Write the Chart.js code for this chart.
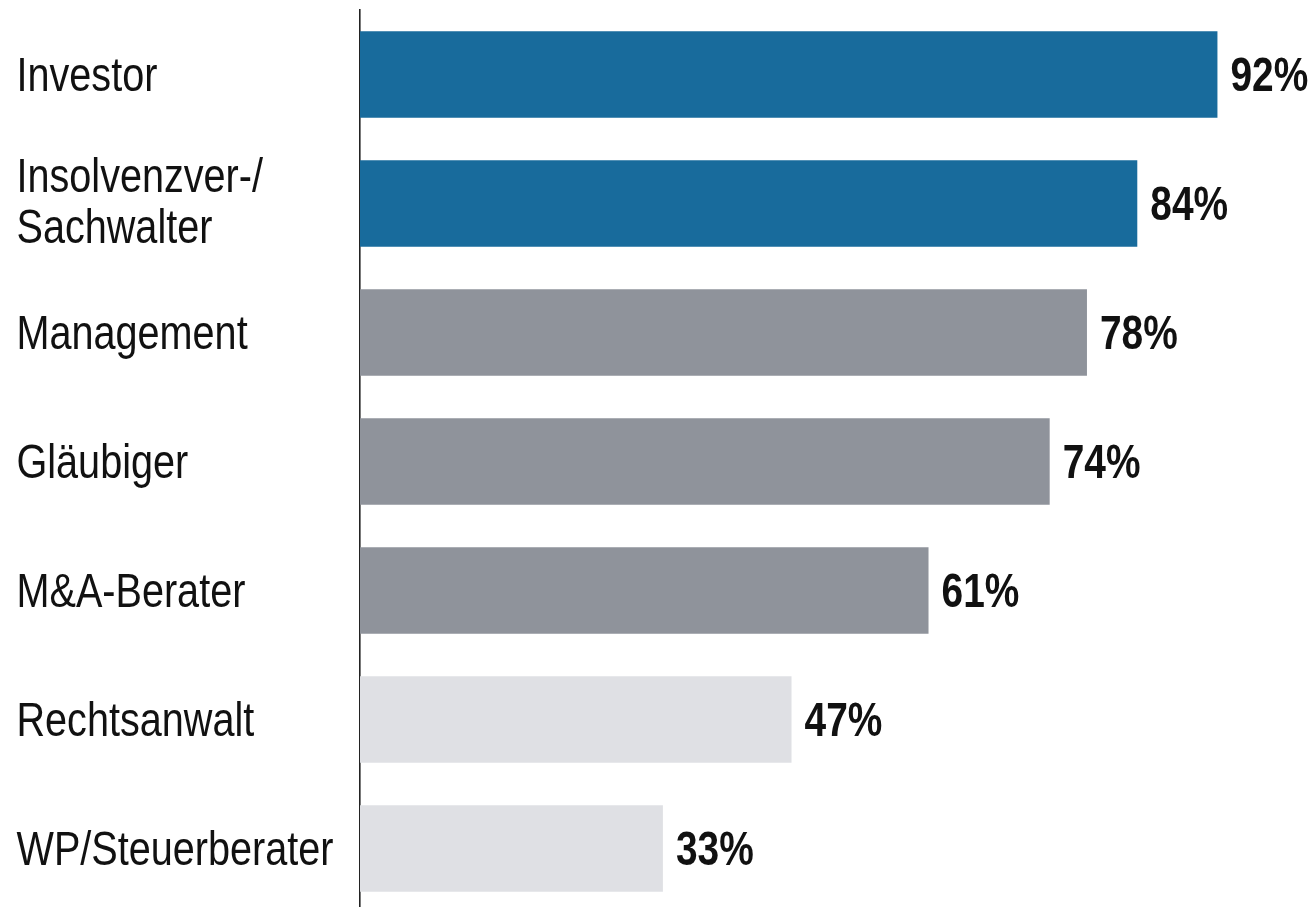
<!DOCTYPE html>
<html>
<head>
<meta charset="utf-8">
<script src="https://cdn.jsdelivr.net/npm/chart.js@4"></script>
<style>
  html, body { margin: 0; padding: 0; background: #ffffff; overflow: hidden; }
  #wrap { position: relative; width: 1314px; height: 913px; }
</style>
</head>
<body>
<div id="wrap"><canvas id="c"></canvas></div>
<script>
const categories = ["Investor", ["Insolvenzver-/", "Sachwalter"], "Management", "Gläubiger", "M&A-Berater", "Rechtsanwalt", "WP/Steuerberater"];
const values = [92, 83.4, 78, 74, 61, 46.3, 32.5];
const valueLabels = ["92%", "84%", "78%", "74%", "61%", "47%", "33%"];
const barColors = ["#186b9c", "#186b9c", "#8f939b", "#8f939b", "#8f939b", "#dfe0e4", "#dfe0e4"];

const FONT = "'Liberation Sans', Arial, sans-serif";
const FS = 48;
const LINE_H = 51.3;
const SX_REG = 0.825;
const SX_BOLD = 0.81;

function drawNarrow(ctx, text, x, y, sx) {
  ctx.save();
  ctx.translate(x, y);
  ctx.scale(sx, 1);
  ctx.fillText(text, 0, 0);
  ctx.restore();
}

const labelPlugin = {
  id: 'narrowLabels',
  afterDatasetsDraw(chart) {
    const ctx = chart.ctx;
    const yScale = chart.scales.y;
    const meta = chart.getDatasetMeta(0);
    ctx.save();
    ctx.fillStyle = "#111111";
    ctx.textAlign = "left";
    ctx.textBaseline = "alphabetic";
    ctx.font = FS + "px " + FONT;
    categories.forEach((lab, i) => {
      const lines = Array.isArray(lab) ? lab : [lab];
      const cy = yScale.getPixelForValue(i);
      lines.forEach((ln, k) => {
        const by = cy + FS * 0.35 + (k - (lines.length - 1) / 2) * LINE_H - (lines.length > 1 ? 3 : 0);
        drawNarrow(ctx, ln, yScale.left - 0.5, by, SX_REG);
      });
    });
    ctx.font = "bold " + FS + "px " + FONT;
    meta.data.forEach((bar, i) => {
      drawNarrow(ctx, valueLabels[i], bar.x + 13, bar.y + FS * 0.35, SX_BOLD);
    });
    ctx.restore();
  }
};

new Chart(document.getElementById('c'), {
  type: 'bar',
  data: {
    labels: categories,
    datasets: [{
      data: values,
      backgroundColor: barColors,
      borderWidth: 0,
      barPercentage: 0.672,
      categoryPercentage: 1
    }]
  },
  options: {
    indexAxis: 'y',
    responsive: true,
    maintainAspectRatio: false,
    animation: false,
    layout: { padding: { left: 17, top: 10, right: 22, bottom: 0 } },
    plugins: {
      legend: { display: false },
      tooltip: { enabled: false }
    },
    scales: {
      x: {
        display: false,
        min: 0,
        max: 100,
        grid: { display: false }
      },
      y: {
        grid: { display: false, drawTicks: false },
        border: { display: true, color: "#222222", width: 1.6 },
        ticks: { display: false },
        afterFit(scale) {
          scale.width = 343;
          scale.paddingTop = 0;
          scale.paddingBottom = 0;
        }
      }
    }
  },
  plugins: [labelPlugin]
});
</script>
</body>
</html>
